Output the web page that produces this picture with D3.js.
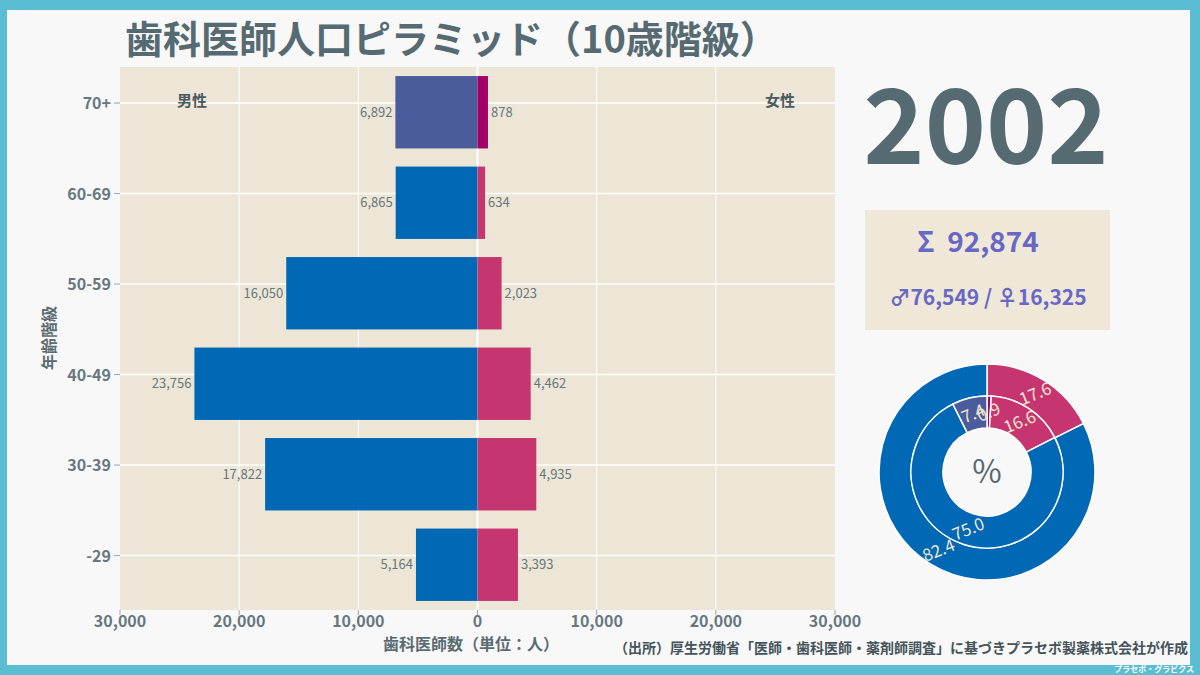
<!DOCTYPE html>
<html><head><meta charset="utf-8">
<script src="https://cdn.jsdelivr.net/npm/d3@7"></script>
<style>
html,body{margin:0;padding:0;background:#5bbdd2;}
svg{display:block;font-family:"Noto Sans CJK JP","Noto Sans",sans-serif;}
</style></head>
<body>
<svg id="c" width="1200" height="675"></svg>
<script>
const categories = ["70+","60-69","50-59","40-49","30-39","-29"];
const maleValues = [6892,6865,16050,23756,17822,5164];
const femaleValues = [878,634,2023,4462,4935,3393];
const xTicks = [-30000,-20000,-10000,0,10000,20000,30000];
const year = "2002";
const totalAll = 92874, totalMale = 76549, totalFemale = 16325;
const outerRing = [{k:"female",v:17.6},{k:"male",v:82.4}];
const innerRing = [{k:"female70",v:0.9},{k:"femaleU",v:16.6},{k:"maleU",v:75.0},{k:"male70",v:7.4}];

const colors = {male:"#0068b4",male70:"#4b5c9c",female:"#c73571",female70:"#a30068",maleU:"#0068b4",femaleU:"#c73571"};
const svg = d3.select("#c");
// frame
svg.append("rect").attr("x",0).attr("y",0).attr("width",1200).attr("height",675).attr("fill","#5bbdd2");
svg.append("rect").attr("x",7).attr("y",10).attr("width",1183).attr("height",655).attr("fill","#f8f8f8");
svg.append("text").attr("x",1194).attr("y",672).attr("text-anchor","end").attr("font-size",8).attr("font-weight","bold").attr("fill","#ffffff").text("プラセボ・グラビクス");

// title
svg.append("text").attr("x",125).attr("y",53).attr("font-size",38).attr("font-weight","bold").attr("fill","#566a72").text("歯科医師人口ピラミッド（10歳階級）");

const L=120,R=835,T=67,B=610;
const x = d3.scaleLinear().domain([-30000,30000]).range([L,R]);
const y = d3.scaleBand().domain(categories).range([T,B]).paddingInner(0.2).paddingOuter(0.1);
const tickY = c => y(c) + 27;

svg.append("rect").attr("x",L).attr("y",T).attr("width",R-L).attr("height",B-T).attr("fill","#ede6d6");
// grid
svg.selectAll(".gx").data(xTicks.filter(t=>t!==-30000&&t!==30000)).join("line")
 .attr("x1",d=>x(d)).attr("x2",d=>x(d)).attr("y1",T).attr("y2",B)
 .attr("stroke","#ffffff").attr("stroke-width",d=>d===0?2:1);
svg.selectAll(".gy").data(categories).join("line")
 .attr("x1",L).attr("x2",R).attr("y1",d=>tickY(d)).attr("y2",d=>tickY(d))
 .attr("stroke","#ffffff").attr("stroke-width",1.5);

// bars
const rows = categories.map((c,i)=>({c,m:maleValues[i],f:femaleValues[i],i}));
svg.selectAll(".bm").data(rows).join("rect")
 .attr("x",d=>x(-d.m)).attr("width",d=>x(0)-x(-d.m)).attr("y",d=>y(d.c)).attr("height",y.bandwidth())
 .attr("fill",d=>d.i===0?colors.male70:colors.male);
svg.selectAll(".bf").data(rows).join("rect")
 .attr("x",x(0)).attr("width",d=>x(d.f)-x(0)).attr("y",d=>y(d.c)).attr("height",y.bandwidth())
 .attr("fill",d=>d.i===0?colors.female70:colors.female);
const fmt = d3.format(",");
svg.selectAll(".lm").data(rows).join("text")
 .attr("x",d=>x(-d.m)-3).attr("y",d=>y(d.c)+y.bandwidth()/2+4.5).attr("text-anchor","end")
 .attr("font-size",13).attr("fill","#66767d").text(d=>fmt(d.m));
svg.selectAll(".lf").data(rows).join("text")
 .attr("x",d=>x(d.f)+3).attr("y",d=>y(d.c)+y.bandwidth()/2+4.5).attr("text-anchor","start")
 .attr("font-size",13).attr("fill","#66767d").text(d=>fmt(d.f));

svg.append("text").attr("x",192).attr("y",106).attr("text-anchor","middle").attr("font-size",15).attr("font-weight","bold").attr("fill","#4a5a60").text("男性");
svg.append("text").attr("x",780).attr("y",106).attr("text-anchor","middle").attr("font-size",15).attr("font-weight","bold").attr("fill","#4a5a60").text("女性");

// axes
const ya = svg.append("g");
categories.forEach(c=>{
  ya.append("line").attr("x1",L-6).attr("x2",L).attr("y1",tickY(c)).attr("y2",tickY(c)).attr("stroke","#9aa6ab");
  ya.append("text").attr("x",L-9).attr("y",tickY(c)+6).attr("text-anchor","end").attr("font-size",16).attr("font-weight","bold").attr("fill","#67777f").text(c);
});
const xa = svg.append("g");
xTicks.forEach(t=>{
  xa.append("line").attr("x1",x(t)).attr("x2",x(t)).attr("y1",B).attr("y2",B+5).attr("stroke","#9aa6ab");
  xa.append("text").attr("x",x(t)).attr("y",B+17).attr("text-anchor","middle").attr("font-size",16).attr("font-weight","bold").attr("fill","#67777f").text(fmt(Math.abs(t)));
});
svg.append("text").attr("x",471).attr("y",650).attr("text-anchor","middle").attr("font-size",16).attr("font-weight","bold").attr("fill","#5b6b72").text("歯科医師数（単位：人）");
svg.append("text").attr("transform","translate(55,338) rotate(-90)").attr("text-anchor","middle").attr("font-size",16).attr("font-weight","bold").attr("fill","#5b6b72").text("年齢階級");

svg.append("text").attr("x",1188).attr("y",653).attr("text-anchor","end").attr("font-size",14).attr("font-weight","bold").attr("fill","#44545a").text("（出所）厚生労働省「医師・歯科医師・薬剤師調査」に基づきプラセボ製薬株式会社が作成");

// year
svg.append("text").attr("x",986).attr("y",164).attr("text-anchor","middle").attr("font-size",104).attr("font-weight","bold").attr("fill","#566a72").text(year);

// summary box
svg.append("rect").attr("x",865).attr("y",210).attr("width",245).attr("height",120).attr("fill","#efe8d8");
svg.append("text").attr("x",978).attr("y",252).attr("text-anchor","middle").attr("font-size",28).attr("font-weight","bold").attr("fill","#6767c6").attr("xml:space","preserve").text("Σ  " + fmt(totalAll));
svg.append("text").attr("x",988).attr("y",305).attr("text-anchor","middle").attr("font-size",21).attr("font-weight","bold").attr("fill","#6767c6").text("♂" + fmt(totalMale) + " / ♀" + fmt(totalFemale));

// donut
const cx=987, cy=472;
const g = svg.append("g").attr("transform",`translate(${cx},${cy})`);
const pie = d3.pie().sort(null).value(d=>d.v);
const arcO = d3.arc().innerRadius(76).outerRadius(108);
const arcI = d3.arc().innerRadius(44).outerRadius(76);
const oArcs = pie(outerRing), iArcs = pie(innerRing);
g.selectAll(".o").data(oArcs).join("path").attr("d",arcO).attr("fill",d=>colors[d.data.k]).attr("stroke","#ffffff").attr("stroke-width",1.5);
g.selectAll(".i").data(iArcs).join("path").attr("d",arcI).attr("fill",d=>colors[d.data.k]).attr("stroke","#ffffff").attr("stroke-width",1.5);
function lab(arcs, r){
  g.selectAll(null).data(arcs).join("text")
   .attr("transform",d=>{const a=(d.startAngle+d.endAngle)/2; return `translate(${Math.sin(a)*r},${-Math.cos(a)*r}) rotate(-22)`;})
   .attr("text-anchor","middle").attr("dy","0.35em").attr("font-size",17).attr("fill","#efe6d0")
   .text(d=>d.data.v.toFixed(1));
}
lab(oArcs,92); lab(iArcs,60);
g.append("text").attr("y",11).attr("text-anchor","middle").attr("font-size",32).attr("fill","#5a6a70").text("%");
</script>
</body></html>
